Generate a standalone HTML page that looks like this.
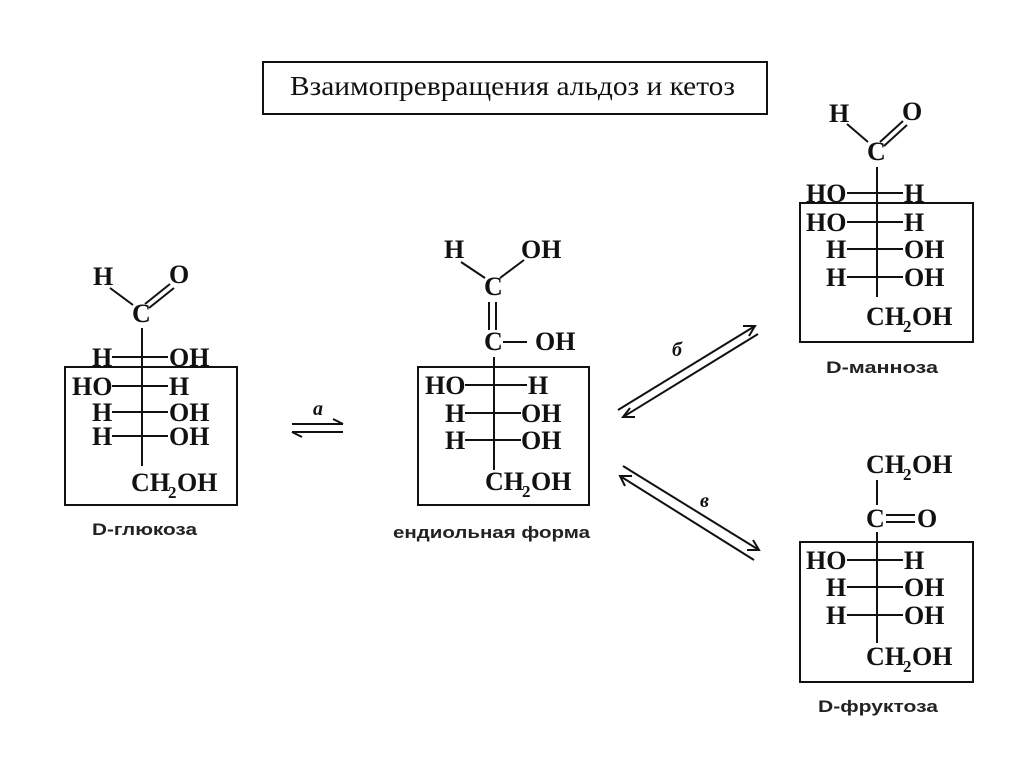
<!DOCTYPE html>
<html><head><meta charset="utf-8"><style>
html,body{margin:0;padding:0;background:#fff;}
svg{display:block;}
.t{font-family:"Liberation Serif",serif;font-size:26px;font-weight:bold;fill:#111;}
.s{font-family:"Liberation Serif",serif;font-size:17px;font-weight:bold;fill:#111;}
.l{font-family:"Liberation Sans",sans-serif;font-size:17px;font-weight:bold;fill:#222;}
.i{font-family:"Liberation Serif",serif;font-size:20px;font-style:italic;font-weight:bold;fill:#111;}
line,rect,path{stroke:#111;stroke-width:2;fill:none;}
</style></head><body>
<svg width="1024" height="767" viewBox="0 0 1024 767" xmlns="http://www.w3.org/2000/svg">
<!-- title -->
<rect x="263" y="62" width="504" height="52"/>
<text x="290" y="95" font-family="Liberation Serif, serif" font-size="27" fill="#111" textLength="445" lengthAdjust="spacingAndGlyphs">Взаимопревращения альдоз и кетоз</text>

<!-- Glucose -->
<text class="t" x="93" y="285">H</text>
<text class="t" x="169" y="283">O</text>
<text class="t" x="132" y="322">C</text>
<line x1="110" y1="288" x2="133" y2="305"/>
<line x1="145" y1="304" x2="170" y2="284"/>
<line x1="149" y1="308" x2="174" y2="288"/>
<line x1="142" y1="328" x2="142" y2="466"/>
<text class="t" x="92" y="366">H</text><line x1="112" y1="357" x2="168" y2="357"/><text class="t" x="169" y="366">OH</text>
<text class="t" x="72" y="395">HO</text><line x1="112" y1="386" x2="168" y2="386"/><text class="t" x="169" y="395">H</text>
<text class="t" x="92" y="421">H</text><line x1="112" y1="412" x2="168" y2="412"/><text class="t" x="169" y="421">OH</text>
<text class="t" x="92" y="445">H</text><line x1="112" y1="436" x2="168" y2="436"/><text class="t" x="169" y="445">OH</text>
<text class="t" x="131" y="491">CH</text><text class="s" x="168" y="498">2</text><text class="t" x="177" y="491">OH</text>
<rect x="65" y="367" width="172" height="138"/>
<text class="l" x="92" y="535" textLength="105" lengthAdjust="spacingAndGlyphs">D-глюкоза</text>

<!-- arrow a -->
<text class="i" x="313" y="415">a</text>
<line x1="292" y1="424" x2="343" y2="424"/><path d="M333 419 L343 424"/>
<line x1="292" y1="432" x2="343" y2="432"/><path d="M302 437 L292 432"/>

<!-- Enediol -->
<text class="t" x="444" y="258">H</text>
<text class="t" x="521" y="258">OH</text>
<text class="t" x="484" y="295">C</text>
<line x1="461" y1="262" x2="485" y2="278"/>
<line x1="500" y1="278" x2="524" y2="260"/>
<line x1="489" y1="302" x2="489" y2="330"/>
<line x1="496" y1="302" x2="496" y2="330"/>
<text class="t" x="484" y="350">C</text>
<line x1="503" y1="342" x2="527" y2="342"/>
<text class="t" x="535" y="350">OH</text>
<line x1="494" y1="357" x2="494" y2="470"/>
<text class="t" x="425" y="394">HO</text><line x1="465" y1="385" x2="527" y2="385"/><text class="t" x="528" y="394">H</text>
<text class="t" x="445" y="422">H</text><line x1="465" y1="413" x2="521" y2="413"/><text class="t" x="521" y="422">OH</text>
<text class="t" x="445" y="449">H</text><line x1="465" y1="440" x2="521" y2="440"/><text class="t" x="521" y="449">OH</text>
<text class="t" x="485" y="490">CH</text><text class="s" x="522" y="497">2</text><text class="t" x="531" y="490">OH</text>
<rect x="418" y="367" width="171" height="138"/>
<text class="l" x="393" y="538" textLength="197" lengthAdjust="spacingAndGlyphs">ендиольная форма</text>

<!-- arrow b -->
<text class="i" x="672" y="356">б</text>
<line x1="618" y1="410" x2="755" y2="326"/><path d="M743 326 L755 326 L749 336"/>
<line x1="758" y1="334" x2="623" y2="417"/><path d="M630 408 L623 417 L635 417"/>
<!-- arrow v -->
<text class="i" x="700" y="507">в</text>
<line x1="623" y1="466" x2="759" y2="550"/><path d="M753 540 L759 550 L747 550"/>
<line x1="620" y1="476" x2="754" y2="560"/><path d="M632 476 L620 476 L625 486"/>

<!-- Mannose -->
<text class="t" x="829" y="122">H</text>
<text class="t" x="902" y="120">O</text>
<text class="t" x="867" y="160">C</text>
<line x1="847" y1="124" x2="868" y2="142"/>
<line x1="880" y1="142" x2="903" y2="121"/>
<line x1="884" y1="146" x2="907" y2="125"/>
<line x1="877" y1="167" x2="877" y2="297"/>
<text class="t" x="806" y="202">HO</text><line x1="847" y1="193" x2="903" y2="193"/><text class="t" x="904" y="202">H</text>
<text class="t" x="806" y="231">HO</text><line x1="847" y1="222" x2="903" y2="222"/><text class="t" x="904" y="231">H</text>
<text class="t" x="826" y="258">H</text><line x1="847" y1="249" x2="903" y2="249"/><text class="t" x="904" y="258">OH</text>
<text class="t" x="826" y="286">H</text><line x1="847" y1="277" x2="903" y2="277"/><text class="t" x="904" y="286">OH</text>
<text class="t" x="866" y="325">CH</text><text class="s" x="903" y="332">2</text><text class="t" x="912" y="325">OH</text>
<rect x="800" y="203" width="173" height="139"/>
<text class="l" x="826" y="373" textLength="112" lengthAdjust="spacingAndGlyphs">D-манноза</text>

<!-- Fructose -->
<text class="t" x="866" y="473">CH</text><text class="s" x="903" y="480">2</text><text class="t" x="912" y="473">OH</text>
<line x1="877" y1="480" x2="877" y2="505"/>
<text class="t" x="866" y="527">C</text>
<line x1="886" y1="515" x2="915" y2="515"/>
<line x1="886" y1="522" x2="915" y2="522"/>
<text class="t" x="917" y="527">O</text>
<line x1="877" y1="532" x2="877" y2="643"/>
<text class="t" x="806" y="569">HO</text><line x1="847" y1="560" x2="903" y2="560"/><text class="t" x="904" y="569">H</text>
<text class="t" x="826" y="596">H</text><line x1="847" y1="587" x2="903" y2="587"/><text class="t" x="904" y="596">OH</text>
<text class="t" x="826" y="624">H</text><line x1="847" y1="615" x2="903" y2="615"/><text class="t" x="904" y="624">OH</text>
<text class="t" x="866" y="665">CH</text><text class="s" x="903" y="672">2</text><text class="t" x="912" y="665">OH</text>
<rect x="800" y="542" width="173" height="140"/>
<text class="l" x="818" y="712" textLength="120" lengthAdjust="spacingAndGlyphs">D-фруктоза</text>
</svg>
</body></html>
